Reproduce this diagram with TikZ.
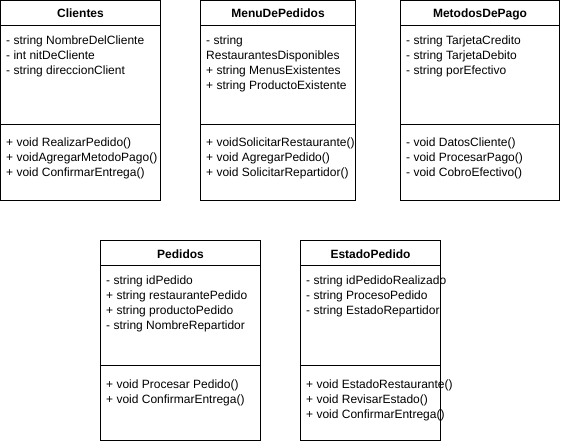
\documentclass[tikz,border=0pt]{standalone}
\usepackage{fontspec}
\setmainfont{Liberation Sans}
\newcommand\memberlist[4]{%
  \foreach \t [count=\i] in {#4} {\node[member] (#1\i) at (#2, {#3+15*(\i-1)}) {\t};}}
\newcommand\umlbox[7]{% name, left, top, right, bottom, header, sep
  \draw[boxline] (#2,#3) rectangle (#4,#5);
  \draw[boxline] (#2,#6) -- (#4,#6);
  \draw[boxline] (#2,#7) -- (#4,#7);
  \coordinate (#1-c) at ({(#2+#4)/2}, {#3+17.5});}
\begin{document}
\begin{tikzpicture}[x=1pt,y=-1pt,
  boxline/.style={draw=black, line width=1pt},
  member/.style={anchor=base west, inner sep=0pt, font=\fontsize{12pt}{14pt}\selectfont},
  title/.style={anchor=base, inner sep=0pt, font=\fontsize{12pt}{14pt}\selectfont\bfseries}]
\useasboundingbox[fill=white] (0,0) rectangle (561,444);

% Clientes
\umlbox{cli}{0.5}{0.5}{160.5}{200.5}{25.5}{124.5}
\node[title] (clit) at (cli-c) {Clientes};
\memberlist{clia}{6}{44.5}{- string NombreDelCliente,- int nitDeCliente,- string direccionClient}
\memberlist{clim}{6}{146.5}{+ void RealizarPedido(),+ voidAgregarMetodoPago(),+ void ConfirmarEntrega()}

% MenuDePedidos
\umlbox{men}{200.5}{0.5}{355.5}{200.5}{25.5}{124.5}
\node[title] (ment) at (men-c) {MenuDePedidos};
\memberlist{mena}{206}{44.5}{- string,RestaurantesDisponibles,+ string MenusExistentes,+ string ProductoExistente}
\memberlist{menm}{206}{146.5}{+ voidSolicitarRestaurante(),+ void AgregarPedido(),+ void SolicitarRepartidor()}

% MetodosDePago
\umlbox{met}{400.5}{0.5}{559.5}{200.5}{25.5}{124.5}
\node[title] (mett) at (met-c) {MetodosDePago};
\memberlist{meta}{406}{44.5}{- string TarjetaCredito,- string TarjetaDebito,- string porEfectivo}
\memberlist{metm}{406}{146.5}{- void DatosCliente(),- void ProcesarPago(),- void CobroEfectivo()}

% Pedidos
\umlbox{ped}{100.5}{240.5}{260.5}{440.5}{265.5}{365.5}
\node[title] (pedt) at (ped-c) {Pedidos};
\memberlist{peda}{106}{284}{- string idPedido,+ string restaurantePedido,+ string productoPedido,- string NombreRepartidor}
\memberlist{pedm}{106}{388}{+ void Procesar Pedido(),+ void ConfirmarEntrega()}

% EstadoPedido
\umlbox{est}{300.5}{240.5}{440.5}{440.5}{265.5}{365.5}
\node[title] (estt) at (est-c) {EstadoPedido};
\memberlist{esta}{306}{284}{- string idPedidoRealizado,- string ProcesoPedido,- string EstadoRepartidor}
\memberlist{estm}{306}{388}{+ void EstadoRestaurante(),+ void RevisarEstado(),+ void ConfirmarEntrega()}
\end{tikzpicture}
\end{document}
